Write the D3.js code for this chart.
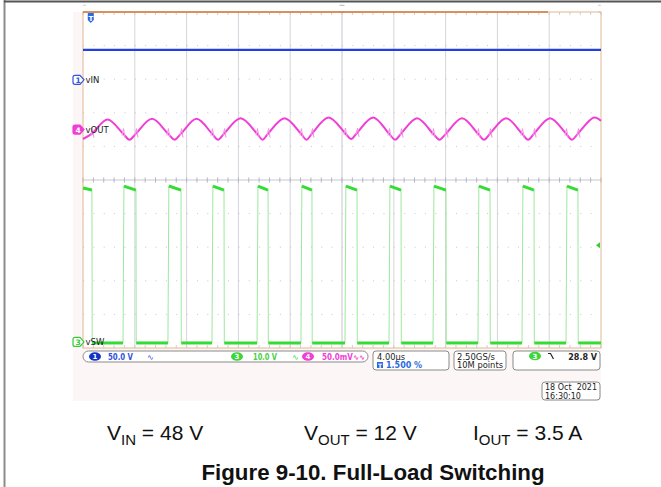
<!DOCTYPE html>
<html>
<head>
<meta charset="utf-8">
<script src="https://cdn.jsdelivr.net/npm/d3@7"></script>
<style>
  body { margin: 0; background: #fff; }
  svg { display: block; }
</style>
</head>
<body>
<svg id="chart" width="661" height="487"></svg>
<script>
// ---- data read off the scope capture ----
// time base 4.00 us/div, 10 divisions
const timeDomain = [0, 40];

// CH1 vIN, 50.0 V/div
const vinTime = [0, 40];
const vinVolts = [44.6, 44.6];

// CH3 vSW, 10.0 V/div : switching edges (us) and levels (V)
const swRise = [3.09, 6.56, 9.96, 13.44, 16.83, 20.23, 23.63, 27.03, 30.50, 33.90, 37.30];
const swFall = [0.69, 4.09, 7.57, 10.89, 14.29, 17.68, 21.16, 24.56, 28.03, 31.43, 34.83, 38.22];
const swHighStart = 46.4;
const swHighEnd = 45.2;
const swLow = -0.3;

// CH4 vOUT ripple, 50.0 mV/div AC coupled
const voutTime = [0, 0.69, 1.89,
  3.09, 3.59, 4.09, 5.33,
  6.56, 7.07, 7.57, 8.77,
  9.96, 10.43, 10.89, 12.17,
  13.44, 13.87, 14.29, 15.56,
  16.83, 17.26, 17.68, 18.96,
  20.23, 20.70, 21.16, 22.40,
  23.63, 24.10, 24.56, 25.80,
  27.03, 27.53, 28.03, 29.27,
  30.50, 30.97, 31.43, 32.67,
  33.90, 34.37, 34.83, 36.07,
  37.30, 37.76, 38.22, 39.46,
  40];
const voutMv = [-14, -6, 15,
  -6, -15, -6, 16,
  -6, -15, -6, 16,
  -6, -15, -6, 17,
  -6, -15, -6, 17,
  -6, -15, -6, 18,
  -5, -14, -5, 18,
  -6, -15, -6, 17,
  -6, -15, -6, 17,
  -6, -15, -6, 17,
  -6, -15, -6, 17,
  -6, -15, -6, 18,
  13];

// channel settings: [offset in divisions, volts per division]
const ch1 = { offset: 2.98, perDiv: 50 };
const ch3 = { offset: -4.82, perDiv: 10 };
const ch4 = { offset: 1.50, perDiv: 50 };
const trigLevel = 28.8;

const W = 661, H = 487;
const svg = d3.select("#chart");

const x = d3.scaleLinear().domain(timeDomain).range([83, 601]);
const yDiv = d3.scaleLinear().domain([-5, 5]).range([348, 12]);
const yCh = ch => v => yDiv(ch.offset + v / ch.perDiv);
const y1 = yCh(ch1), y3 = yCh(ch3), y4 = yCh(ch4);

// outer page frame
svg.append("line").attr("x1", 4.5).attr("x2", 4.5).attr("y1", 0).attr("y2", H)
  .attr("stroke", "#8c8c8c").attr("stroke-width", 2);
svg.append("line").attr("x1", 4).attr("x2", W).attr("y1", 1.5).attr("y2", 1.5)
  .attr("stroke", "#555").attr("stroke-width", 2);

// scope screen background
svg.append("rect").attr("x", 73).attr("y", 12).attr("width", 528).attr("height", 389)
  .attr("fill", "#fcf6f6");
svg.append("rect").attr("x", x(0)).attr("y", yDiv(5)).attr("width", x(40) - x(0))
  .attr("height", yDiv(-5) - yDiv(5)).attr("fill", "#fff");

// graticule
const grid = svg.append("g");
const minorX = (x(4) - x(0)) / 5, minorY = (yDiv(-4) - yDiv(-5)) / 5;
d3.range(4, 40, 4).filter(t => t !== 20).forEach(t => {
  grid.append("line").attr("x1", x(t)).attr("x2", x(t)).attr("y1", yDiv(5)).attr("y2", yDiv(-5))
    .attr("stroke", "#d4d4dc").attr("stroke-dasharray", `1 ${minorY - 1}`);
});
d3.range(-4, 5).filter(d => d !== 0).forEach(d => {
  grid.append("line").attr("x1", x(0)).attr("x2", x(40)).attr("y1", yDiv(d)).attr("y2", yDiv(d))
    .attr("stroke", "#c4c4ce").attr("stroke-dasharray", `1 ${minorX - 1}`);
});
// center cross with minor ticks
grid.append("line").attr("x1", x(20)).attr("x2", x(20)).attr("y1", yDiv(5)).attr("y2", yDiv(-5))
  .attr("stroke", "#c6c6d4");
grid.append("line").attr("x1", x(0)).attr("x2", x(40)).attr("y1", yDiv(0)).attr("y2", yDiv(0))
  .attr("stroke", "#c6c6d4");
d3.range(0, 50.01, 1).forEach(i => {
  const yy = yDiv(5) + i * minorY;
  grid.append("line").attr("x1", x(20) - 2.5).attr("x2", x(20) + 2.5).attr("y1", yy).attr("y2", yy).attr("stroke", "#b4b4c4");
  grid.append("line").attr("x1", x(0)).attr("x2", x(0) + 3).attr("y1", yy).attr("y2", yy).attr("stroke", "#cfcfd6");
  grid.append("line").attr("x1", x(40) - 3).attr("x2", x(40)).attr("y1", yy).attr("y2", yy).attr("stroke", "#cfcfd6");
  const xx = x(0) + i * minorX;
  grid.append("line").attr("x1", xx).attr("x2", xx).attr("y1", yDiv(0) - 2.5).attr("y2", yDiv(0) + 2.5).attr("stroke", "#b4b4c4");
  grid.append("line").attr("x1", xx).attr("x2", xx).attr("y1", yDiv(5)).attr("y2", yDiv(5) + 3).attr("stroke", "#cfcfd6");
  grid.append("line").attr("x1", xx).attr("x2", xx).attr("y1", yDiv(-5) - 3).attr("y2", yDiv(-5)).attr("stroke", "#cfcfd6");
});
grid.append("rect").attr("x", x(0)).attr("y", yDiv(5)).attr("width", x(40) - x(0))
  .attr("height", yDiv(-5) - yDiv(5)).attr("fill", "none").attr("stroke", "#e0b890");
grid.append("line").attr("x1", x(0)).attr("x2", 548).attr("y1", yDiv(5)).attr("y2", yDiv(5))
  .attr("stroke", "#d07a3a").attr("stroke-width", 1.5);

// ---- traces ----
const traces = svg.append("g");

// vIN
traces.append("path")
  .datum(d3.zip(vinTime, vinVolts))
  .attr("d", d3.line().x(d => x(d[0])).y(d => y1(d[1])))
  .attr("fill", "none").attr("stroke", "#2040e0").attr("stroke-width", 2.4);

// vOUT ripple
const voutPts = d3.zip(voutTime, voutMv);
traces.append("path")
  .datum(voutPts)
  .attr("d", d3.line().x(d => x(d[0])).y(d => y4(d[1])).curve(d3.curveCatmullRom.alpha(0.5)))
  .attr("fill", "none").attr("stroke", "#f03ed6").attr("stroke-width", 2);
// switching spikes on the ripple at each edge
const edgeIdx = voutTime.map((t, i) => i).filter(i => swRise.includes(voutTime[i]) || swFall.includes(voutTime[i]));
traces.selectAll("path.spike").data(edgeIdx).join("path")
  .attr("class", "spike")
  .attr("d", i => `M${x(voutTime[i]) - 1},${y4(voutMv[i]) + 2}l1.5,-7l1.5,9`)
  .attr("fill", "none").attr("stroke", "#f590e6").attr("stroke-width", 1);

// vSW
const pulses = [[0, swFall[0]]].concat(swRise.map((r, i) => [r, swFall[i + 1]]));
const swPts = [];
pulses.forEach(([r, f], i) => {
  if (i === 0) swPts.push([r, swHighStart - 0.6]);
  else { swPts.push([r, swLow]); swPts.push([r + 0.07, swHighStart]); }
  swPts.push([f, swHighEnd]);
  swPts.push([f + 0.02, swLow]);
});
swPts.push([40, swLow]);
traces.append("path")
  .datum(swPts)
  .attr("d", d3.line().x(d => x(d[0])).y(d => y3(d[1])))
  .attr("fill", "none").attr("stroke", "#9ee89e").attr("stroke-width", 1);
traces.selectAll("line.hi").data(pulses).join("line")
  .attr("class", "hi")
  .attr("x1", (d, i) => x(i === 0 ? d[0] : d[0] + 0.07)).attr("x2", d => x(d[1]))
  .attr("y1", (d, i) => y3(i === 0 ? swHighStart - 0.6 : swHighStart)).attr("y2", y3(swHighEnd))
  .attr("stroke", "#35dc35").attr("stroke-width", 3);
const lows = swFall.map((f, i) => [f + 0.02, i < swRise.length ? swRise[i] : 40]);
traces.selectAll("line.lo").data(lows).join("line")
  .attr("class", "lo")
  .attr("x1", d => x(d[0])).attr("x2", d => x(d[1]))
  .attr("y1", y3(swLow)).attr("y2", y3(swLow))
  .attr("stroke", "#35dc35").attr("stroke-width", 3);

// ---- channel markers and labels ----
const markers = [
  { n: "1", name: "vIN", y: y1(0), col: "#3050e0", filled: false },
  { n: "4", name: "vOUT", y: y4(0), col: "#f03ed6", filled: true },
  { n: "3", name: "vSW", y: y3(0), col: "#35cc35", filled: false }
];
const mk = svg.append("g").selectAll("g").data(markers).join("g")
  .attr("transform", d => `translate(0,${d.y})`);
mk.append("path")
  .attr("d", "M75,-4.5 H80 L84,0 L80,4.5 H75 Q73,4.5 73,2.5 V-2.5 Q73,-4.5 75,-4.5 Z")
  .attr("fill", d => d.filled ? d.col : "#fff").attr("stroke", d => d.col).attr("stroke-width", 1.2);
mk.append("text").attr("x", 78).attr("y", 3).attr("text-anchor", "middle")
  .attr("font-family", "DejaVu Sans").attr("font-size", 7.5).attr("font-weight", "bold")
  .attr("fill", d => d.filled ? "#fff" : d.col).text(d => d.n);
mk.append("text").attr("x", 85.5).attr("y", 3.5)
  .attr("font-family", "DejaVu Sans").attr("font-size", 8.5).attr("fill", "#222").text(d => d.name);

// trigger position marker (top) and trigger level marker (right)
const trigX = x(0.6);
svg.append("path").attr("d", `M${trigX - 3},13 h6 v7 l-3,3 l-3,-3 Z`).attr("fill", "#2a6ae0");
svg.append("text").attr("x", trigX).attr("y", 20.5).attr("text-anchor", "middle")
  .attr("font-family", "DejaVu Sans").attr("font-size", 7).attr("font-weight", "bold")
  .attr("fill", "#fff").text("T");
svg.append("path").attr("d", `M${x(40) - 1},${y3(trigLevel) - 3} l-4,3 l4,3 Z`).attr("fill", "#35cc35");

// ---- status bar ----
const sb = svg.append("g").attr("font-family", "DejaVu Sans").attr("font-size", 8);
const box = (x0, y0, w, h, r) => sb.append("rect").attr("x", x0).attr("y", y0).attr("width", w).attr("height", h)
  .attr("rx", r).attr("fill", "#fff").attr("stroke", "#8a8a8a").attr("stroke-width", 1);
const label = (x0, y0, txt, col, len) => {
  const t = sb.append("text").attr("x", x0).attr("y", y0).attr("fill", col).text(txt);
  if (len) t.attr("textLength", len).attr("lengthAdjust", "spacingAndGlyphs");
  return t;
};
box(83, 351, 285, 11, 5.5);
const oval = (cx, col, n) => {
  sb.append("ellipse").attr("cx", cx).attr("cy", 356.5).attr("rx", 6).attr("ry", 4.3).attr("fill", col);
  sb.append("text").attr("x", cx).attr("y", 359.3).attr("text-anchor", "middle").attr("font-size", 7)
    .attr("font-weight", "bold").attr("fill", "#fff").text(n);
};
oval(95, "#1434c8", "1");
label(108, 359.5, "50.0 V", "#3050e0", 25).attr("font-weight", "bold");
label(147, 359.5, "∿", "#3050e0");
oval(237, "#3cd63c", "3");
label(253, 359.5, "10.0 V", "#44d044", 24).attr("font-weight", "bold");
label(292, 359.5, "∿", "#44d044");
oval(308, "#f03ed6", "4");
label(322, 359.5, "50.0mV∿∿", "#f03ed6", 43).attr("font-weight", "bold");

box(373, 351, 76, 19, 3);
label(377, 359.5, "4.00µs", "#222", 28);
sb.append("rect").attr("x", 377).attr("y", 362).attr("width", 6).attr("height", 6).attr("fill", "#2a6ae0");
sb.append("text").attr("x", 380).attr("y", 367.5).attr("text-anchor", "middle").attr("font-size", 6)
  .attr("font-weight", "bold").attr("fill", "#fff").text("T");
label(386, 368, "1.500 %", "#2a6ae0").attr("font-weight", "bold");

box(454, 351, 52, 19, 3);
label(457, 359.5, "2.50GS/s", "#222", 38);
label(457, 368, "10M points", "#222", 46);

box(513, 351, 87, 19, 3);
sb.append("ellipse").attr("cx", 535).attr("cy", 356).attr("rx", 6).attr("ry", 4.3).attr("fill", "#3cd63c");
sb.append("text").attr("x", 535).attr("y", 358.8).attr("text-anchor", "middle").attr("font-size", 7)
  .attr("font-weight", "bold").attr("fill", "#fff").text("3");
sb.append("path").attr("d", "M548,353.5 h2.5 l3,5.5").attr("fill", "none").attr("stroke", "#222").attr("stroke-width", 1.2);
label(597, 359.5, `${trigLevel.toFixed(1)} V`, "#222").attr("text-anchor", "end").attr("font-weight", "bold");

box(542, 382, 58, 18, 3);
label(545, 390, "18 Oct  2021", "#222").attr("xml:space", "preserve");
label(545, 398.5, "16:30:10", "#222");

// ---- caption ----
const cap = svg.append("g").attr("font-family", "Liberation Sans, Arial, sans-serif").attr("fill", "#111");
const capItems = [
  { x: 107, main: "V", sub: "IN", rest: " = 48 V" },
  { x: 304, main: "V", sub: "OUT", rest: " = 12 V" },
  { x: 473, main: "I", sub: "OUT", rest: " = 3.5 A" }
];
capItems.forEach(c => {
  const t = cap.append("text").attr("x", c.x).attr("y", 440).attr("font-size", 21).attr("xml:space", "preserve");
  t.append("tspan").text(c.main);
  t.append("tspan").attr("font-size", 15).attr("dy", 5).text(c.sub);
  t.append("tspan").attr("dy", -5).text(c.rest);
});
cap.append("text").attr("x", 373).attr("y", 480).attr("text-anchor", "middle")
  .attr("font-size", 22.3).attr("font-weight", "bold").text("Figure 9-10. Full-Load Switching");
</script>
</body>
</html>
